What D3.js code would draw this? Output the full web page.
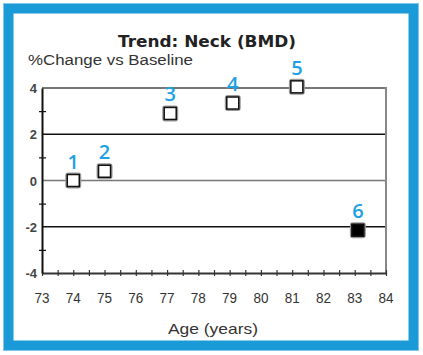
<!DOCTYPE html>
<html><head><meta charset="utf-8">
<script src="https://cdn.jsdelivr.net/npm/d3@7/dist/d3.min.js"></script>
<style>body{margin:0;background:#fff}svg{display:block}</style>
</head><body>
<svg id="c" width="423" height="355"></svg>
<script>
const ages = [74, 75, 77.1, 79.1, 81.15, 83.1];
const pctChange = [0, 0.4, 2.9, 3.35, 4.05, -2.15];
const pointLabels = ["1", "2", "3", "4", "5", "6"];
const pointFilled = [false, false, false, false, false, true];
const xTicks = [73, 74, 75, 76, 77, 78, 79, 80, 81, 82, 83, 84];
const yTicks = [-4, -2, 0, 2, 4];
const title = "Trend: Neck (BMD)";
const subtitle = "%Change vs Baseline";
const xTitle = "Age (years)";

const svg = d3.select("#c");
// blue frame
svg.append("rect").attr("x", 8.5).attr("y", 8.5).attr("width", 405).attr("height", 337)
  .attr("fill", "none").attr("stroke", "#1b9ad8").attr("stroke-width", 10);
svg.append("rect").attr("x", 3.5).attr("y", 3.5).attr("width", 415).attr("height", 347)
  .attr("fill", "none").attr("stroke", "#7fc8ec").attr("stroke-width", 1);

const x = d3.scaleLinear().domain([73, 84]).range([42, 386]);
const y = d3.scaleLinear().domain([-4, 4]).range([273, 88]);

const g = svg.append("g");
// horizontal grid
yTicks.filter(v => v > -4).forEach(v => {
  g.append("line").attr("x1", x(73)).attr("x2", x(84)).attr("y1", y(v)).attr("y2", y(v))
    .attr("stroke", (v === 2 || v === -2) ? "#111" : "#777").attr("stroke-width", v === 4 ? 2 : 1.5);
});
// right border
g.append("line").attr("x1", x(84)).attr("x2", x(84)).attr("y1", y(4) - 1).attr("y2", y(-4))
  .attr("stroke", "#888").attr("stroke-width", 2);

// x axis
const xAxis = d3.axisBottom(x).tickValues(d3.range(73, 84.01, 0.5)).tickSize(0).tickFormat("");
const xa = svg.append("g").attr("transform", `translate(0,${y(-4)})`).call(xAxis);
xa.select(".domain").attr("stroke", "#333").attr("stroke-width", 2);
xa.selectAll(".tick line").attr("y1", -3).attr("y2", 3).attr("stroke", "#333").attr("stroke-width", 1.2);
xTicks.forEach(v => {
  svg.append("text").attr("x", x(v)).attr("y", y(-4) + 30).attr("text-anchor", "middle")
    .attr("font-family", "Liberation Sans, Arial, sans-serif").attr("font-size", 15)
    .attr("fill", "#333").attr("transform", `translate(${x(v)},0) scale(0.9,1) translate(${-x(v)},0)`).text(v);
});

// y axis
const yAxis = d3.axisLeft(y).tickValues(d3.range(-3, 4, 2)).tickSize(0).tickFormat("");
const ya = svg.append("g").attr("transform", `translate(${x(73)},0)`).call(yAxis);
ya.select(".domain").attr("stroke", "#111").attr("stroke-width", 2);
ya.selectAll(".tick line").attr("x1", -3).attr("x2", 4).attr("stroke", "#111").attr("stroke-width", 1.2);
yTicks.forEach(v => {
  svg.append("text").attr("x", x(73) - 5).attr("y", y(v) + 5).attr("text-anchor", "end")
    .attr("font-family", "Liberation Sans, Arial, sans-serif").attr("font-size", 13).attr("font-weight", "bold")
    .attr("fill", "#444").text(v);
});

// titles
svg.append("text").attr("x", 207).attr("y", 47).attr("text-anchor", "middle")
  .attr("font-family", "DejaVu Sans, sans-serif").attr("font-size", 16).attr("font-weight", "bold")
  .attr("fill", "#222").attr("textLength", 178).attr("lengthAdjust", "spacingAndGlyphs").text(title);
svg.append("text").attr("x", 28).attr("y", 65)
  .attr("font-family", "Liberation Sans, Arial, sans-serif").attr("font-size", 14)
  .attr("fill", "#333").attr("textLength", 165).attr("lengthAdjust", "spacingAndGlyphs").text(subtitle);
svg.append("text").attr("x", 213).attr("y", 334).attr("text-anchor", "middle")
  .attr("font-family", "Liberation Sans, Arial, sans-serif").attr("font-size", 15)
  .attr("fill", "#333").attr("textLength", 90).attr("lengthAdjust", "spacingAndGlyphs").text(xTitle);

// markers
const pts = ages.map((a, i) => ({a, v: pctChange[i], lab: pointLabels[i], f: pointFilled[i]}));
const mg = svg.append("g");
mg.selectAll("rect.o").data(pts).join("rect")
  .attr("x", d => x(d.a) - 7).attr("y", d => y(d.v) - 7).attr("width", 14).attr("height", 14)
  .attr("rx", 2).attr("fill", "none").attr("stroke", "#999").attr("stroke-width", 2);
mg.selectAll("rect.i").data(pts).join("rect")
  .attr("x", d => x(d.a) - 6).attr("y", d => y(d.v) - 6).attr("width", 12).attr("height", 12)
  .attr("fill", d => d.f ? "#000" : "#fff").attr("stroke", "#111").attr("stroke-width", 1.5);
// labels
mg.selectAll("text").data(pts).join("text")
  .attr("x", d => x(d.a)).attr("y", d => y(d.v) - 12).attr("text-anchor", "middle")
  .attr("font-family", "Open Sans, sans-serif").attr("font-size", 20).attr("font-weight", "600")
  .attr("fill", "#1ea1e3").text(d => d.lab);
</script>
</body></html>
